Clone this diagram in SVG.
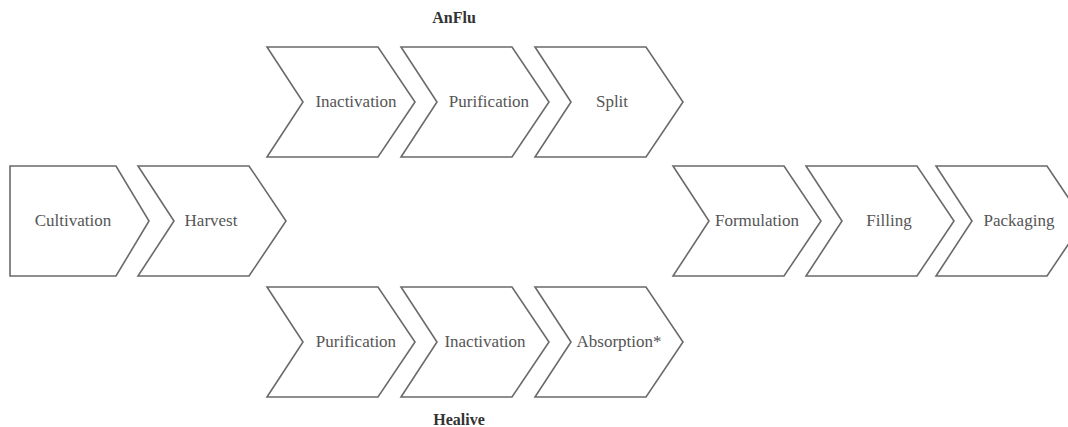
<svg xmlns="http://www.w3.org/2000/svg" xmlns:xlink="http://www.w3.org/1999/xlink" width="1068" height="427" viewBox="0 0 1068 427">
<style>
.shape{fill:#fff;stroke:#6a6a6a;stroke-width:1.6;stroke-linejoin:miter}
.lbl{font-size:17px;fill:#555;text-anchor:middle}
.ttl{font-size:16px;font-weight:bold;fill:#333;text-anchor:middle}
</style>
<defs>
<path id="chev" d="M0,0 L111,0 L148,55 L111,110 L0,110 L36,55 Z"/>
</defs>
<rect width="1068" height="427" fill="#fff"/>
<g font-family="'Liberation Serif', 'Times New Roman', serif">
<text class="ttl" x="454" y="23">AnFlu</text>
<text class="ttl" x="459" y="425">Healive</text>
<g id="connectors"></g>
<g id="cultivation"><path class="shape" d="M10,166 L116,166 L149,221 L116,276 L10,276 Z"/><text class="lbl" x="73" y="226">Cultivation</text></g>
<g id="harvest"><use class="shape" href="#chev" x="138" y="166"/><text class="lbl" x="211" y="226">Harvest</text></g>
<g id="anflu-inactivation"><use class="shape" href="#chev" x="267" y="47"/><text class="lbl" x="356" y="107">Inactivation</text></g>
<g id="anflu-purification"><use class="shape" href="#chev" x="401" y="47"/><text class="lbl" x="489" y="107">Purification</text></g>
<g id="anflu-split"><use class="shape" href="#chev" x="535" y="47"/><text class="lbl" x="612" y="107">Split</text></g>
<g id="healive-purification"><use class="shape" href="#chev" x="267" y="287"/><text class="lbl" x="356" y="347">Purification</text></g>
<g id="healive-inactivation"><use class="shape" href="#chev" x="401" y="287"/><text class="lbl" x="485" y="347">Inactivation</text></g>
<g id="healive-absorption"><use class="shape" href="#chev" x="535" y="287"/><text class="lbl" x="619" y="347">Absorption*</text></g>
<g id="formulation"><use class="shape" href="#chev" x="673" y="166"/><text class="lbl" x="757" y="226">Formulation</text></g>
<g id="filling"><use class="shape" href="#chev" x="806" y="166"/><text class="lbl" x="889" y="226">Filling</text></g>
<g id="packaging"><use class="shape" href="#chev" x="936" y="166"/><text class="lbl" x="1019" y="226">Packaging</text></g>
</g>
</svg>
